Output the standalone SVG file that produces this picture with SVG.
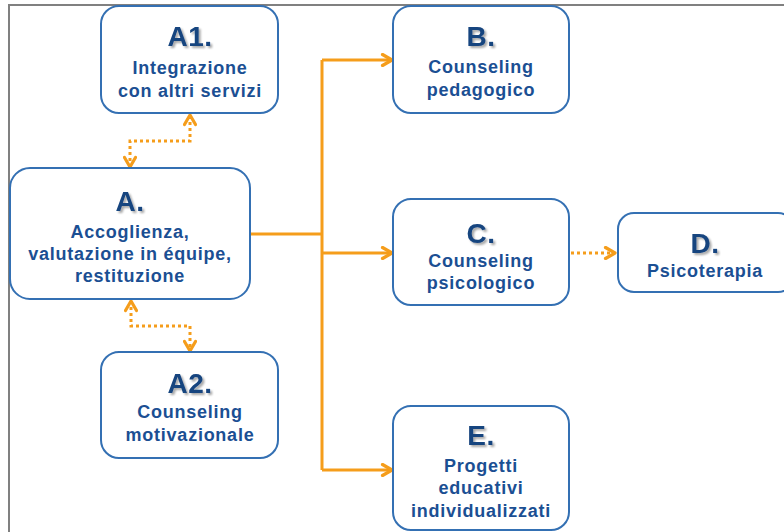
<svg xmlns="http://www.w3.org/2000/svg" width="784" height="532" viewBox="0 0 784 532">
<defs>
<style>
.box{fill:#fff;stroke:#3470B3;stroke-width:2}
.t{font-family:"Liberation Sans",Arial,sans-serif;font-weight:bold;fill:#1B4F93;text-anchor:middle;font-size:18px;letter-spacing:0.75px}
.h{font-family:"Liberation Sans",Arial,sans-serif;font-weight:bold;fill:#17447F;text-anchor:middle;font-size:28px;letter-spacing:0.5px;filter:url(#sh)}
.solid{fill:none;stroke:#F59D1B;stroke-width:3}
.dot{fill:none;stroke:#F59D1B;stroke-width:3;stroke-dasharray:3 3}
</style>
<filter id="sh" x="-20%" y="-20%" width="140%" height="140%">
<feGaussianBlur in="SourceAlpha" stdDeviation="1"/>
<feOffset dx="1.5" dy="1.5" result="o"/>
<feComponentTransfer><feFuncA type="linear" slope="0.35"/></feComponentTransfer>
<feMerge><feMergeNode/><feMergeNode in="SourceGraphic"/></feMerge>
</filter>
<marker id="ar" viewBox="0 0 14 14" refX="12" refY="7" markerWidth="14" markerHeight="14" markerUnits="userSpaceOnUse" orient="auto-start-reverse">
<path d="M2.5,1.5 L12,7 L2.5,12.5" fill="none" stroke="#F59D1B" stroke-width="3.2" stroke-linecap="round" stroke-linejoin="round"/>
</marker>
</defs>
<rect width="784" height="532" fill="#fff"/>
<path d="M9,532 V5 H784" fill="none" stroke="#808080" stroke-width="2"/>

<g id="connectors">
<path class="solid" d="M250,234 H322"/>
<path class="solid" d="M322,60 V470"/>
<path class="solid" d="M322,60 H392" marker-end="url(#ar)"/>
<path class="solid" d="M322,253 H392" marker-end="url(#ar)"/>
<path class="solid" d="M322,470 H392" marker-end="url(#ar)"/>
<path class="dot" d="M571,253 H615" marker-end="url(#ar)"/>
<path class="dot" d="M130,167 V141 H190 V115" marker-start="url(#ar)" marker-end="url(#ar)"/>
<path class="dot" d="M131,301 V326 H190 V351" marker-start="url(#ar)" marker-end="url(#ar)"/>
</g>

<g id="A1">
<rect class="box" x="101" y="6" width="177" height="107" rx="18"/>
<text class="h" x="190" y="46">A1.</text>
<text class="t" x="190" y="74">Integrazione</text>
<text class="t" x="190" y="97">con altri servizi</text>
</g>
<g id="A">
<rect class="box" x="10" y="168" width="240" height="131" rx="20"/>
<text class="h" x="130" y="211">A.</text>
<text class="t" x="130" y="238">Accoglienza,</text>
<text class="t" x="130" y="260">valutazione in équipe,</text>
<text class="t" x="130" y="282">restituzione</text>
</g>
<g id="A2">
<rect class="box" x="101" y="352" width="177" height="106" rx="18"/>
<text class="h" x="190" y="393">A2.</text>
<text class="t" x="190" y="418">Counseling</text>
<text class="t" x="190" y="441">motivazionale</text>
</g>
<g id="B">
<rect class="box" x="393" y="6" width="176" height="107" rx="18"/>
<text class="h" x="481" y="46">B.</text>
<text class="t" x="481" y="73">Counseling</text>
<text class="t" x="481" y="96">pedagogico</text>
</g>
<g id="C">
<rect class="box" x="393" y="199" width="176" height="106" rx="18"/>
<text class="h" x="481" y="243">C.</text>
<text class="t" x="481" y="267">Counseling</text>
<text class="t" x="481" y="289">psicologico</text>
</g>
<g id="D">
<rect class="box" x="618" y="213" width="176" height="79" rx="16"/>
<text class="h" x="705" y="253">D.</text>
<text class="t" x="705" y="277">Psicoterapia</text>
</g>
<g id="E">
<rect class="box" x="393" y="406" width="176" height="124" rx="18"/>
<text class="h" x="481" y="445">E.</text>
<text class="t" x="481" y="472">Progetti</text>
<text class="t" x="481" y="494">educativi</text>
<text class="t" x="481" y="517">individualizzati</text>
</g>
</svg>
